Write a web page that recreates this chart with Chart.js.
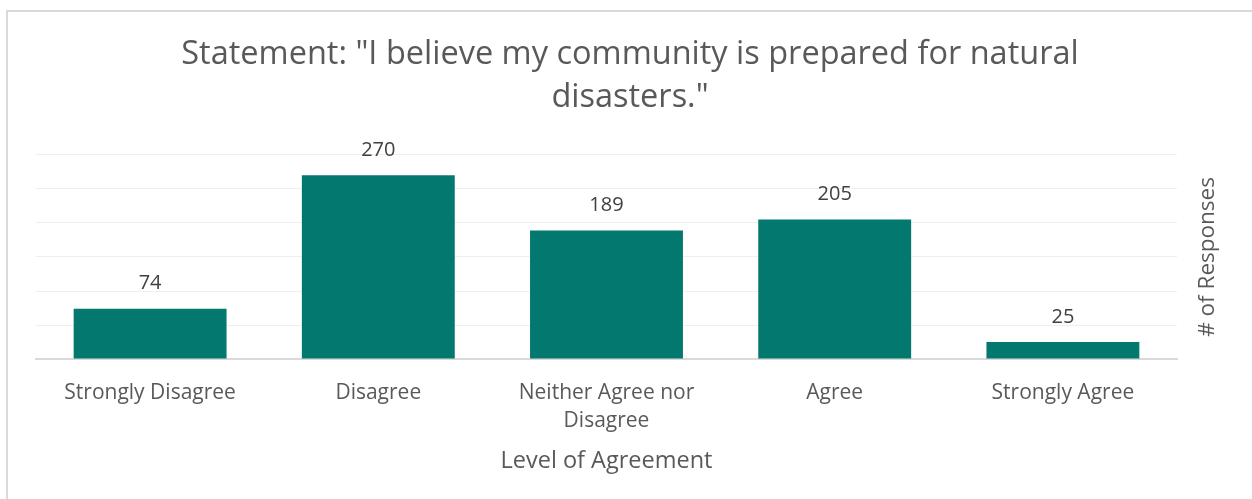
<!DOCTYPE html>
<html>
<head>
<meta charset="utf-8">
<script src="https://cdn.jsdelivr.net/npm/chart.js@4"></script>
<style>
  html, body { margin: 0; padding: 0; background: #fff; }
  #frame {
    position: absolute; left: 6px; top: 10px; width: 1246px; height: 489px;
    border-left: 2px solid #d9d9d9; border-top: 2px solid #d9d9d9;
  }
  #wrap { position: absolute; left: 0; top: 0; width: 1244px; height: 487px; }
</style>
</head>
<body>
<div id="frame"><div id="wrap"><canvas id="myChart"></canvas></div></div>
<script>
const titleLines = ['Statement: "I believe my community is prepared for natural', 'disasters."'];
const categories = [
  'Strongly Disagree',
  'Disagree',
  ['Neither Agree nor', 'Disagree'],
  'Agree',
  'Strongly Agree'
];
const responses = [74, 270, 189, 205, 25];
const xTitle = 'Level of Agreement';
const yTitle = '# of Responses';

const FONT = '"Open Sans", sans-serif';
const textGrey = '#595959';

// values above each bar
const barLabels = {
  id: 'barLabels',
  afterDatasetsDraw(chart) {
    const ctx = chart.ctx;
    const meta = chart.getDatasetMeta(0);
    ctx.save();
    ctx.font = '20px ' + FONT;
    ctx.fillStyle = '#404040';
    ctx.textAlign = 'center';
    ctx.textBaseline = 'middle';
    meta.data.forEach((bar, i) => {
      ctx.fillText(String(responses[i]), bar.x, bar.y - 25);
    });
    ctx.restore();
  }
};

// y title on the right, reading bottom to top (like Excel)
const rightTitle = {
  id: 'rightTitle',
  afterDraw(chart) {
    const ctx = chart.ctx;
    const area = chart.chartArea;
    ctx.save();
    ctx.translate(area.right + 31, (area.top + area.bottom) / 2);
    ctx.rotate(-Math.PI / 2);
    ctx.font = '22.5px ' + FONT;
    ctx.fillStyle = textGrey;
    ctx.textAlign = 'center';
    ctx.textBaseline = 'middle';
    ctx.fillText(yTitle, 0, 0);
    ctx.restore();
  }
};

const ctx = document.getElementById('myChart').getContext('2d');
window.myChart = new Chart(ctx, {
  type: 'bar',
  data: {
    labels: categories,
    datasets: [{
      label: yTitle,
      data: responses,
      backgroundColor: '#03786e',
      borderColor: '#03786e',
      borderWidth: 0,
      categoryPercentage: 1,
      barPercentage: 0.67
    }]
  },
  options: {
    responsive: true,
    maintainAspectRatio: false,
    animation: false,
    layout: { padding: { left: 28, right: 28, top: 0, bottom: 0 } },
    plugins: {
      legend: { display: false },
      tooltip: { enabled: false },
      title: {
        display: true,
        text: titleLines,
        color: textGrey,
        font: { family: FONT, size: 32.5, weight: 'normal', lineHeight: 1.32 },
        padding: { top: 21, bottom: 36 }
      }
    },
    scales: {
      x: {
        grid: { display: false },
        border: { color: '#d9d9d9', width: 2 },
        ticks: {
          color: textGrey,
          font: { family: FONT, size: 21, lineHeight: 1.35 },
          maxRotation: 0,
          autoSkip: false,
          padding: 11.5
        },
        title: {
          display: true,
          text: xTitle,
          color: textGrey,
          font: { family: FONT, size: 23.5, lineHeight: 1.2 },
          padding: { top: 0, bottom: 24 }
        }
      },
      y: {
        position: 'right',
        min: 0,
        max: 300,
        ticks: { display: false, stepSize: 50 },
        grid: { color: '#eeeeee', lineWidth: 1, drawTicks: false },
        border: { display: false },
        afterFit(scale) { scale.width = 47; }
      }
    }
  },
  plugins: [barLabels, rightTitle]
});
</script>
</body>
</html>
